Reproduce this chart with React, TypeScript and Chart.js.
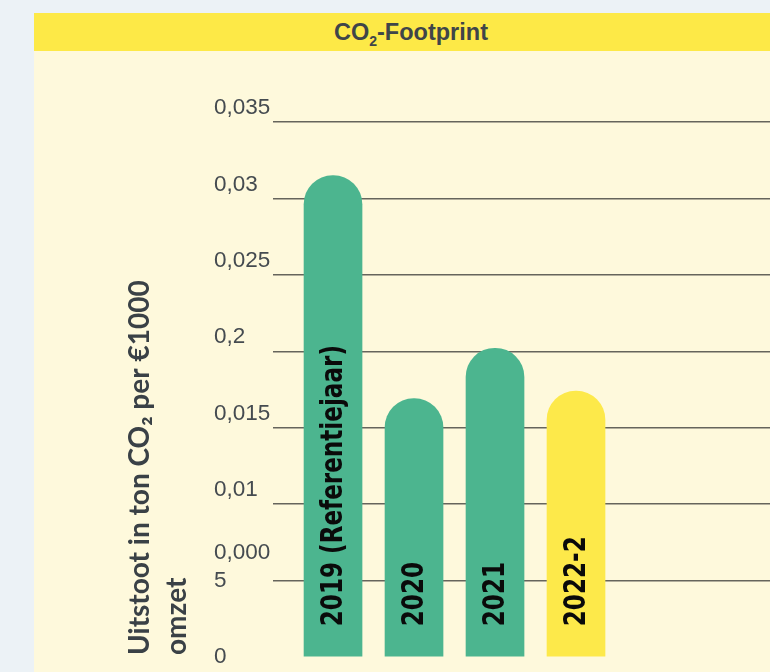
import React, { useEffect, useRef } from 'react';
import { Chart, registerables } from 'chart.js';

Chart.register(...registerables);

const categories = ['2019 (Referentiejaar)', '2020', '2021', '2022-2'];
const positions = [0, 1, 2, 3];
const values = [0.0315, 0.0169, 0.0202, 0.0174];
const barColors = ['#4cb58f', '#4cb58f', '#4cb58f', '#fde94a'];
const tickValues = [0, 0.005, 0.01, 0.015, 0.02, 0.025, 0.03, 0.035];
const tickTexts: (string | string[])[] = [['', '0'], ['0,000', '5'], '0,01', '0,015', '0,2', '0,025', '0,03', '0,035'];
const axisTitleLines = ['Uitstoot in ton CO\u2082 per \u20ac1000', 'omzet'];

const CREAM = '#fef9dc';

const barLabelPlugin = {
  id: 'barLabels',
  afterDatasetsDraw(chart: any) {
    const meta = chart.getDatasetMeta(0);
    const ctx = chart.ctx;
    meta.data.forEach((el: any, i: number) => {
      ctx.save();
      ctx.translate(el.x + 1, el.base - 30);
      ctx.rotate(-Math.PI / 2);
      ctx.scale(0.77, 1);
      ctx.font = "bold 30px 'DejaVu Sans'";
      ctx.fillStyle = '#0a0a0a';
      ctx.textAlign = 'left';
      ctx.textBaseline = 'middle';
      ctx.fillText(categories[i], 0, 0);
      ctx.restore();
    });
  },
};

const axisTitlePlugin = {
  id: 'axisTitle',
  afterDraw(chart: any) {
    const ctx = chart.ctx;
    const y = chart.scales.y;
    const bottom = chart.chartArea.bottom - 2;
    ctx.save();
    ctx.font = "bold 28px Lato, 'Open Sans', sans-serif";
    ctx.fillStyle = '#3a4146';
    ctx.textAlign = 'left';
    ctx.textBaseline = 'middle';
    axisTitleLines.forEach((line, i) => {
      ctx.save();
      ctx.translate(y.left - 74 + i * 37, bottom);
      ctx.rotate(-Math.PI / 2);
      ctx.fillText(line, 0, 0);
      ctx.restore();
    });
    ctx.restore();
  },
};

function ChartView() {
  const ref = useRef<HTMLCanvasElement>(null);
  useEffect(() => {
    if (!ref.current) return;
    const chart = new Chart(ref.current, {
      type: 'bar',
      data: {
        datasets: [
          {
            data: positions.map((p, i) => ({ x: p, y: values[i] })),
            backgroundColor: barColors,
            borderRadius: 29,
            borderSkipped: 'start',
            barThickness: 58,
          },
        ],
      },
      options: {
        animation: false,
        responsive: true,
        maintainAspectRatio: false,
        layout: { padding: { left: 180, top: 71, bottom: 15, right: 0 } },
        plugins: { legend: { display: false }, tooltip: { enabled: false }, title: { display: false } },
        scales: {
          x: {
            type: 'linear',
            display: false,
            min: -0.741,
            max: 5.395,
            offset: false,
            grid: { display: false },
          },
          y: {
            min: 0,
            max: 0.035,
            afterBuildTicks(scale: any) {
              scale.ticks = tickValues.map((v) => ({ value: v }));
            },
            afterFit(scale: any) {
              scale.width = 59;
              scale.paddingTop = 0;
              scale.paddingBottom = 0;
            },
            border: { display: false },
            grid: {
              drawTicks: false,
              lineWidth: 1.5,
              color: (c: any) => (c.tick && c.tick.value === 0 ? 'rgba(0,0,0,0)' : '#66655c'),
            },
            ticks: {
              crossAlign: 'far',
              labelOffset: -14,
              padding: 0,
              color: '#454b50',
              font: { family: "'Liberation Sans', Arial, sans-serif", size: 22.5, lineHeight: 1.25 },
              callback: (_v: any, index: number) => tickTexts[index],
            },
          },
        },
      },
      plugins: [barLabelPlugin, axisTitlePlugin],
    } as any);
    return () => chart.destroy();
  }, []);
  return <canvas ref={ref} />;
}

export default function App() {
  return (
    <div
      style={{
        position: 'fixed',
        left: 0,
        top: 0,
        width: 770,
        height: 672,
        overflow: 'hidden',
        background: '#ecf2f6',
      }}
    >
      <div
        style={{
          position: 'absolute',
          left: 34,
          top: 13,
          width: 754,
          height: 700,
          background: CREAM,
        }}
      >
        <div
          style={{
            height: 38,
            background: '#fde947',
            display: 'flex',
            alignItems: 'center',
            justifyContent: 'center',
            fontFamily: "'Liberation Sans', Arial, sans-serif",
            fontWeight: 'bold',
            fontSize: 23.5,
            color: '#3f4549',
            paddingTop: 3,
            boxSizing: 'border-box',
          }}
        >
          <span>
            CO<sub style={{ fontSize: 14, verticalAlign: -6 }}>2</sub>-Footprint
          </span>
        </div>
        <div style={{ position: 'relative', width: 736, height: 621 }}>
          <ChartView />
        </div>
      </div>
    </div>
  );
}
